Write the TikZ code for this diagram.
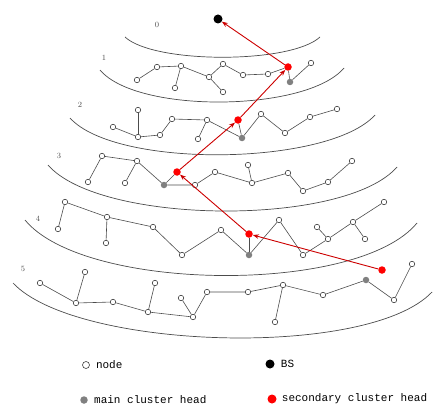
\documentclass[tikz,border=0pt]{standalone}
\usepackage{fontspec}
\setmonofont{Liberation Mono}
\usepackage{tikz}
\colorlet{chred}{red!80!black}
\usetikzlibrary{arrows.meta, positioning}

\begin{document}
\begin{tikzpicture}[x=1pt, y=-1pt,
  snode/.style={circle, draw=black!75, fill=white, inner sep=0pt, minimum size=5.5pt, line width=0.6pt},
  mhead/.style={circle, inner sep=0pt, minimum size=6.5pt, fill=black!50},
  shead/.style={circle, inner sep=0pt, minimum size=7.5pt, fill=red},
  bsnode/.style={circle, inner sep=0pt, minimum size=9pt, fill=black},
  link/.style={draw=black!70, line width=0.6pt},
  ring/.style={draw=black!70, line width=0.7pt},
  lvl/.style={font=\footnotesize, text=black!70},
  legend/.style={font=\ttfamily\fontsize{11}{12}\selectfont, inner sep=0pt},
  ->/.style={-{Stealth[length=6pt, width=4.5pt]}, chred, line width=0.9pt}]
  \useasboundingbox (0,0) rectangle (433,409);
  % rings
  \draw[ring] (125,37) .. controls +(29,27) and +(-29,27) .. (320,37);
  \draw[ring] (100,70) .. controls +(37,44) and +(-37,44) .. (344,68);
  \draw[ring] (70,118) .. controls +(46,51) and +(-46,51) .. (375,115);
  \draw[ring] (48,165) .. controls +(52,60) and +(-52,60) .. (397,167);
  \draw[ring] (25,220) .. controls +(59,72) and +(-59,72) .. (417,223);
  \draw[ring] (13,283) .. controls +(63,67) and +(-63,67) .. (432,292);
  \node[lvl] (l0) at (157,25) {0};
  \node[lvl] (l1) at (104,58) {1};
  \node[lvl] (l2) at (80,105) {2};
  \node[lvl] (l3) at (59,156) {3};
  \node[lvl] (l4) at (38,219) {4};
  \node[lvl] (l5) at (23,269) {5};
  % base station
  \node[bsnode] (bs) at (218,19) {};
  % level 1
  \node[snode] (a1) at (137,80) {};
  \node[snode] (a2) at (157,67) {};
  \node[snode] (a3) at (181,66) {};
  \node[snode] (a4) at (175,88) {};
  \node[snode] (a5) at (209,77) {};
  \node[snode] (a6) at (223,92) {};
  \node[snode] (a7) at (223,64) {};
  \node[snode] (a8) at (243,75) {};
  \node[snode] (a9) at (268,74) {};
  \node[shead] (r1) at (288,67) {};
  \node[mhead] (g1) at (290,82) {};
  \node[snode] (a10) at (311,63) {};
  \draw[link] (a1) -- (a2) -- (a3) -- (a5) -- (a7) -- (a8) -- (a9) -- (r1) -- (g1) -- (a10);
  \draw[link] (a3) -- (a4);
  \draw[link] (a5) -- (a6);
  % level 2
  \node[snode] (b1) at (113,127) {};
  \node[snode] (b2) at (138,110) {};
  \node[snode] (b3) at (138,137) {};
  \node[snode] (b4) at (160,135) {};
  \node[snode] (b5) at (172,119) {};
  \node[snode] (b6) at (207,120) {};
  \node[snode] (b7) at (198,139) {};
  \node[shead] (r2) at (238,120) {};
  \node[mhead] (g2) at (242,138) {};
  \node[snode] (b8) at (261,114) {};
  \node[snode] (b9) at (285,133) {};
  \node[snode] (b10) at (310,117) {};
  \node[snode] (b11) at (337,109) {};
  \draw[link] (b1) -- (b3) -- (b4) -- (b5) -- (b6) -- (g2) -- (b8) -- (b9) -- (b10) -- (b11);
  \draw[link] (b2) -- (b3);
  \draw[link] (b6) -- (b7);
  \draw[link] (r2) -- (g2);
  % level 3
  \node[snode] (c1) at (88,182) {};
  \node[snode] (c2) at (102,156) {};
  \node[snode] (c3) at (137,161) {};
  \node[snode] (c4) at (125,183) {};
  \node[mhead] (g3) at (164,185) {};
  \node[shead] (r3) at (177,172) {};
  \node[snode] (c5) at (195,185) {};
  \node[snode] (c6) at (215,172) {};
  \node[snode] (c7) at (248,165) {};
  \node[snode] (c8) at (252,183) {};
  \node[snode] (c9) at (288,173) {};
  \node[snode] (c10) at (303,191) {};
  \node[snode] (c11) at (328,182) {};
  \node[snode] (c12) at (352,161) {};
  \draw[link] (c1) -- (c2) -- (c3) -- (g3) -- (c5) -- (c6) -- (c8) -- (c9) -- (c10) -- (c11) -- (c12);
  \draw[link] (c3) -- (c4);
  \draw[link] (c7) -- (c8);
  \draw[link] (g3) -- (r3);
  % level 4
  \node[snode] (d1) at (65,202) {};
  \node[snode] (d2) at (58,229) {};
  \node[snode] (d3) at (107,217) {};
  \node[snode] (d4) at (106,243) {};
  \node[snode] (d5) at (153,227) {};
  \node[snode] (d6) at (182,255) {};
  \node[snode] (d7) at (221,230) {};
  \node[shead] (r4) at (249,234) {};
  \node[mhead] (g4) at (249,255) {};
  \node[snode] (d8) at (279,220) {};
  \node[snode] (d9) at (303,255) {};
  \node[snode] (d10) at (317,227) {};
  \node[snode] (d11) at (328,239) {};
  \node[snode] (d12) at (353,222) {};
  \node[snode] (d13) at (365,239) {};
  \node[snode] (d14) at (384,202) {};
  \draw[link] (d2) -- (d1) -- (d3) -- (d5) -- (d6) -- (d7) -- (g4) -- (d8) -- (d9) -- (d11) -- (d12) -- (d14);
  \draw[link] (d3) -- (d4);
  \draw[link] (d10) -- (d11);
  \draw[link] (d12) -- (d13);
  \draw[link] (g4) -- (r4);
  % level 5
  \node[snode] (e1) at (40,283) {};
  \node[snode] (e2) at (85,272) {};
  \node[snode] (e3) at (76,303) {};
  \node[snode] (e4) at (113,302) {};
  \node[snode] (e5) at (148,312) {};
  \node[snode] (e6) at (155,283) {};
  \node[snode] (e7) at (193,317) {};
  \node[snode] (e8) at (181,298) {};
  \node[snode] (e9) at (207,292) {};
  \node[snode] (e10) at (248,292) {};
  \node[snode] (e11) at (283,285) {};
  \node[snode] (e12) at (275,322) {};
  \node[snode] (e13) at (323,295) {};
  \node[mhead] (g5) at (366,280) {};
  \node[shead] (r5) at (382,270) {};
  \node[snode] (e14) at (394,300) {};
  \node[snode] (e15) at (412,264) {};
  \draw[link] (e1) -- (e3) -- (e4) -- (e5) -- (e7) -- (e9) -- (e10) -- (e11) -- (e13) -- (g5) -- (e14) -- (e15);
  \draw[link] (e2) -- (e3);
  \draw[link] (e5) -- (e6);
  \draw[link] (e7) -- (e8);
  \draw[link] (e11) -- (e12);
  % route of the secondary heads
  \draw[->] (r5) -- (r4);
  \draw[->] (r4) -- (r3);
  \draw[->] (r3) -- (r2);
  \draw[->] (r2) -- (r1);
  \draw[->] (r1) -- (bs);
  % legend
  \node[snode, minimum size=7pt] (k1) at (86,365) {};
  \node[legend] [right = 6pt of k1] {node};
  \node[bsnode] (k2) at (270,364) {};
  \node[legend] [right = 6pt of k2] {BS};
  \node[mhead, minimum size=7.5pt] (k3) at (84,400) {};
  \node[legend] [right = 6pt of k3] {main cluster head};
  \node[shead, minimum size=9pt] (k4) at (272,399) {};
  \node[legend] [right = 5pt of k4] {secondary cluster head};
\end{tikzpicture}
\end{document}
